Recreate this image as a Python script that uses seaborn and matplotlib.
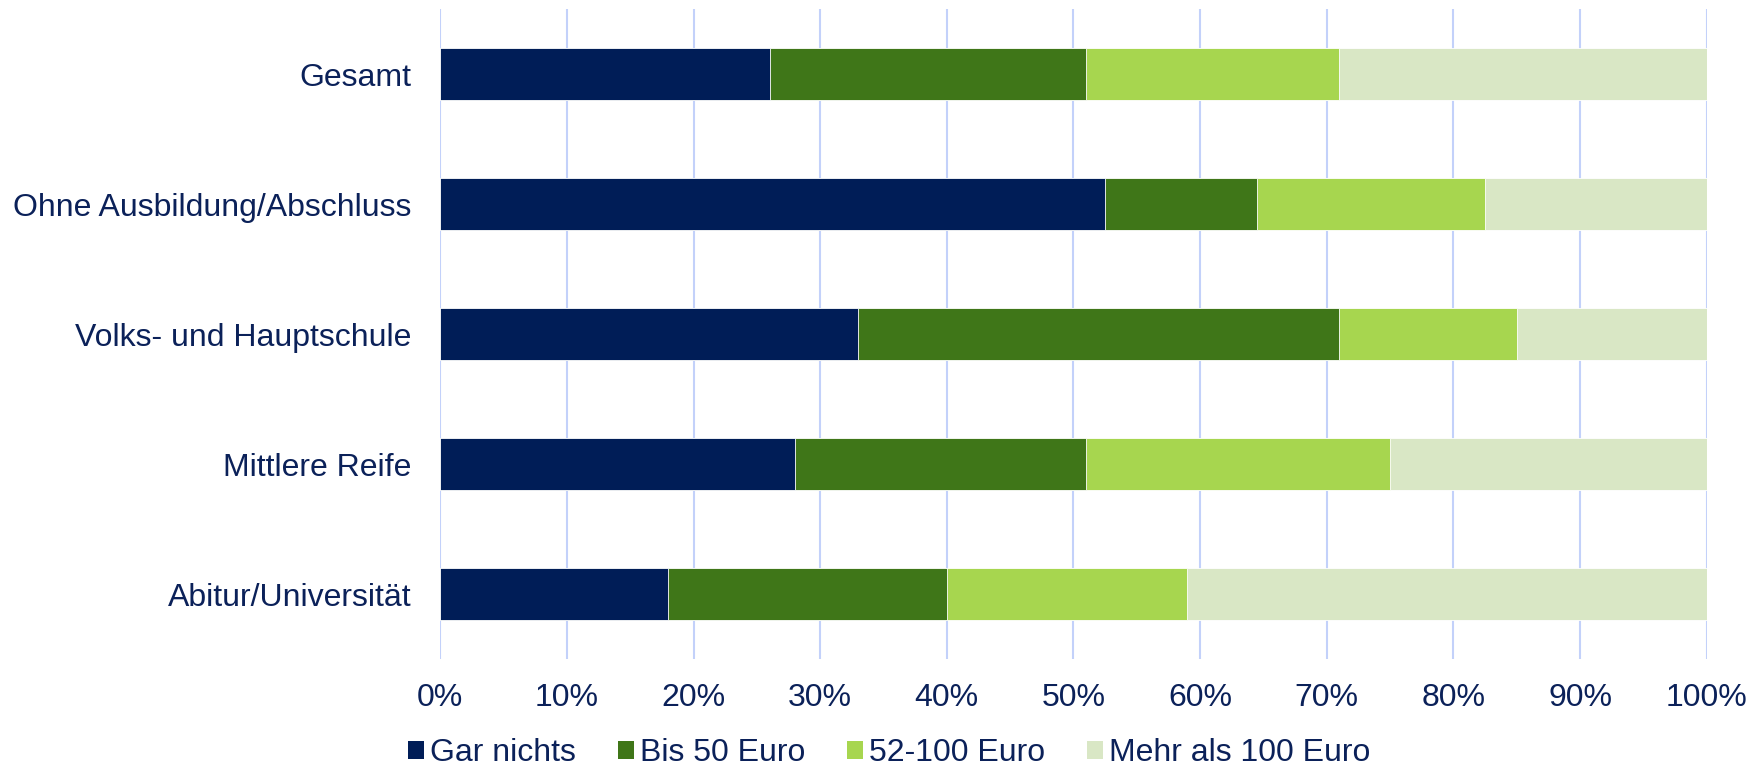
import pandas as pd
import matplotlib.pyplot as plt
import seaborn as sns
from matplotlib.ticker import PercentFormatter
from matplotlib.patches import Patch

# Data (percent shares per group)
categories = ["Gesamt", "Ohne Ausbildung/Abschluss", "Volks- und Hauptschule",
              "Mittlere Reife", "Abitur/Universität"]
gar_nichts = [26, 52.5, 33, 28, 18]
bis_50 = [25, 12, 38, 23, 22]
euro_52_100 = [20, 18, 14, 24, 19]
mehr_100 = [29, 17.5, 15, 25, 41]

series_names = ["Gar nichts", "Bis 50 Euro", "52-100 Euro", "Mehr als 100 Euro"]
colors = ["#001D57", "#3F7618", "#A7D64F", "#D9E7C5"]
text_color = "#0B2159"

df = pd.DataFrame({
    "Kategorie": categories,
    "Gar nichts": gar_nichts,
    "Bis 50 Euro": bis_50,
    "52-100 Euro": euro_52_100,
    "Mehr als 100 Euro": mehr_100,
})

# cumulative sums so the stacked bars can be drawn back to front
cum = df[series_names].cumsum(axis=1)
cum["Kategorie"] = df["Kategorie"]

sns.set_style("white")
plt.rcParams["font.family"] = ["Liberation Sans", "DejaVu Sans"]

fig, ax = plt.subplots(figsize=(17.54, 7.7), dpi=100)
fig.subplots_adjust(left=0.251, right=0.973, top=0.988, bottom=0.144)

for name, color in reversed(list(zip(series_names, colors))):
    sns.barplot(data=cum, x=name, y="Kategorie", color=color, orient="h",
                width=0.4, ax=ax, edgecolor="white", linewidth=0.6,
                saturation=1, zorder=3)

ax.set_xlim(0, 100)
ax.set_ylim(4.5, -0.5)
ax.set_xticks(range(0, 101, 10))
ax.xaxis.set_major_formatter(PercentFormatter(decimals=0))
ax.grid(axis="x", color="#C3D1FA", linewidth=1.5, zorder=0)
ax.grid(axis="y", visible=False)
ax.set_axisbelow(True)
for s in ax.spines.values():
    s.set_visible(False)
ax.set_xlabel("")
ax.set_ylabel("")
ax.tick_params(axis="both", length=0, labelsize=23, colors=text_color)
ax.tick_params(axis="x", pad=17)
ax.tick_params(axis="y", pad=21)

handles = [Patch(facecolor=c, edgecolor="none") for c in colors]
leg = fig.legend(handles, series_names, loc="center", ncol=4,
                 bbox_to_anchor=(0.507, 0.022), frameon=False, fontsize=23,
                 handlelength=0.5, handleheight=0.5, handletextpad=0.2,
                 columnspacing=1.3, borderpad=0, borderaxespad=0)
for t in leg.get_texts():
    t.set_color(text_color)

plt.savefig("out.png")
plt.close()
